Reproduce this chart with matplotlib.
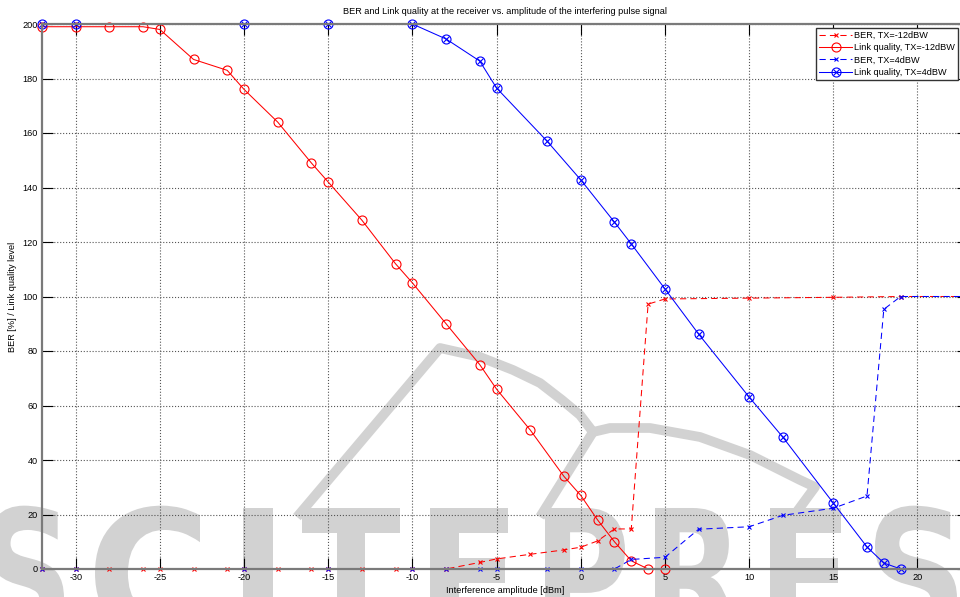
import numpy as np
import matplotlib
matplotlib.use("Agg")
import matplotlib.pyplot as plt
from matplotlib.lines import Line2D
from matplotlib.patches import PathPatch
from matplotlib.textpath import TextPath
from matplotlib.font_manager import FontProperties
from matplotlib.transforms import Affine2D
from matplotlib.legend_handler import HandlerTuple

# interference amplitude [dBm] and measured values
x_red = [-32, -30, -28, -26, -25, -23, -21, -20, -18, -16, -15, -13, -11, -10,
         -8, -6, -5, -3, -1, 0, 1, 2, 3, 4, 5]
lq_red = [199, 199, 199, 199, 198, 187, 183, 176, 164, 149, 142, 128, 112, 105,
          90, 75, 66, 51, 34, 27, 18, 10, 3, 0, 0]
ber_red_x = x_red + [10, 15, 19, 23]
ber_red = [0, 0, 0, 0, 0, 0, 0, 0, 0, 0, 0, 0, 0, 0,
           0, 2.4, 3.7, 5.4, 7.0, 8.0, 10.3, 14.7, 14.7, 97.2, 99.1,
           99.4, 99.7, 100, 100]

x_blue = [-32, -30, -20, -15, -10, -8, -6, -5, -2, 0, 2, 3, 5, 7, 10, 12, 15, 17, 18, 19]
lq_blue = [200, 200, 200, 200, 200, 194.5, 186.4, 176.5, 157, 142.8, 127.3, 119.3,
           102.8, 86.2, 63.1, 48.4, 24.2, 8.1, 2.2, 0]
ber_blue_x = x_blue + [23]
ber_blue = [0, 0, 0, 0, 0, 0, 0, 0, 0, 0, 0, 3.5, 4.3, 14.6, 15.5, 19.7, 22.3, 26.8,
            95.3, 100, 100]

xticks = np.arange(-30, 25, 5)
yticks = np.arange(0, 220, 20)

# publisher watermark (pixel positions on the page)
wm_letters = "SCITEPRESS"
wm_left = [-12, 95, 243, 302, 430, 545, 655, 770, 875, 990]
wm_width = [76, 105, 30, 98, 80, 80, 86, 72, 82, 82]
wm_top, wm_height = 508, 130
wm_strokes = [
    [(297, 517), (440, 348), (480, 357), (513, 370), (540, 383), (562, 400),
     (580, 415), (593, 432)],
    [(593, 432), (540, 517)],
    [(593, 432), (610, 428), (650, 428), (700, 437), (750, 455), (800, 480),
     (815, 487), (793, 517)],
]

plt.rcParams['font.family'] = ['Liberation Sans', 'DejaVu Sans']
plt.rcParams['font.size'] = 6.6
plt.rcParams['axes.unicode_minus'] = False

W, H = 960, 597
fig = plt.figure(figsize=(9.6, 5.97), dpi=100)
ax = fig.add_axes([42 / W, 28 / H, 926 / W, 545 / H])
ax.patch.set_alpha(0)

wm_col = '#d2d2d2'
fp = FontProperties(family='DejaVu Sans', weight='bold')
for ch, xl, w in zip(wm_letters, wm_left, wm_width):
    tp = TextPath((0, 0), ch, size=1, prop=fp)
    bb = tp.get_extents()
    tr = (Affine2D().translate(-bb.x0, 0)
          .scale(w / bb.width / W, wm_height / 0.729 / H)
          .translate(xl / W, 1 - (wm_top + wm_height) / H)) + fig.transFigure
    fig.add_artist(PathPatch(tp, transform=tr, color=wm_col, lw=0, zorder=-2))
for st in wm_strokes:
    xs = [p[0] / W for p in st]
    ys = [1 - p[1] / H for p in st]
    fig.add_artist(Line2D(xs, ys, transform=fig.transFigure, color=wm_col, lw=7,
                          solid_capstyle='butt', solid_joinstyle='round', zorder=-2))

red = '#ff0000'
blue = '#0000ff'

l1, = ax.plot(ber_red_x, ber_red, '--', color=red, lw=0.75, marker='x', ms=3.5,
              mew=0.8, dashes=(6, 4))
l2, = ax.plot(x_red, lq_red, '-', color=red, lw=0.75, marker='o', ms=6.5,
              mfc='none', mew=0.8)
l3, = ax.plot(ber_blue_x, ber_blue, '--', color=blue, lw=0.75, marker='x', ms=3.5,
              mew=0.8, dashes=(6, 4))
l4, = ax.plot(x_blue, lq_blue, '-', color=blue, lw=0.75, marker='o', ms=6.5,
              mfc='none', mew=0.8)
l4x, = ax.plot(x_blue, lq_blue, ls='none', color=blue, marker='x', ms=4.5, mew=0.8)
for ln in (l1, l2, l3, l4, l4x):
    ln.set_clip_on(False)

ax.set_xlim(-32, 23)
ax.set_ylim(0, 200)
ax.set_xticks(xticks)
ax.set_yticks(yticks)
ax.grid(True, linestyle=':', color='#555555', lw=0.8)
ax.tick_params(direction='in', length=8, width=0.8, top=True, right=True,
               pad=3, colors='black')
for s in ax.spines.values():
    s.set_color('#7a7a7a')
    s.set_linewidth(1.6)

ax.set_title("BER and Link quality at the receiver vs. amplitude of the interfering pulse signal",
             fontsize=6.6, pad=7)
ax.set_xlabel("Interference amplitude [dBm]", labelpad=3)
ax.set_ylabel("BER [%] / Link quality level", labelpad=4)

ax.legend([l1, l2, l3, (l4, l4x)],
          ["BER, TX=-12dBW", "Link quality, TX=-12dBW", "BER, TX=4dBW", "Link quality, TX=4dBW"],
          handler_map={tuple: HandlerTuple(ndivide=1, pad=0)}, numpoints=1,
          loc='upper right', bbox_to_anchor=(958 / W, 1 - 28 / H),
          bbox_transform=fig.transFigure, fancybox=False, framealpha=1,
          edgecolor='#333333', fontsize=6.6, borderpad=0.35, labelspacing=0.35,
          handlelength=3.6, handletextpad=0.2, borderaxespad=0)

fig.savefig("out.png", dpi=100)
